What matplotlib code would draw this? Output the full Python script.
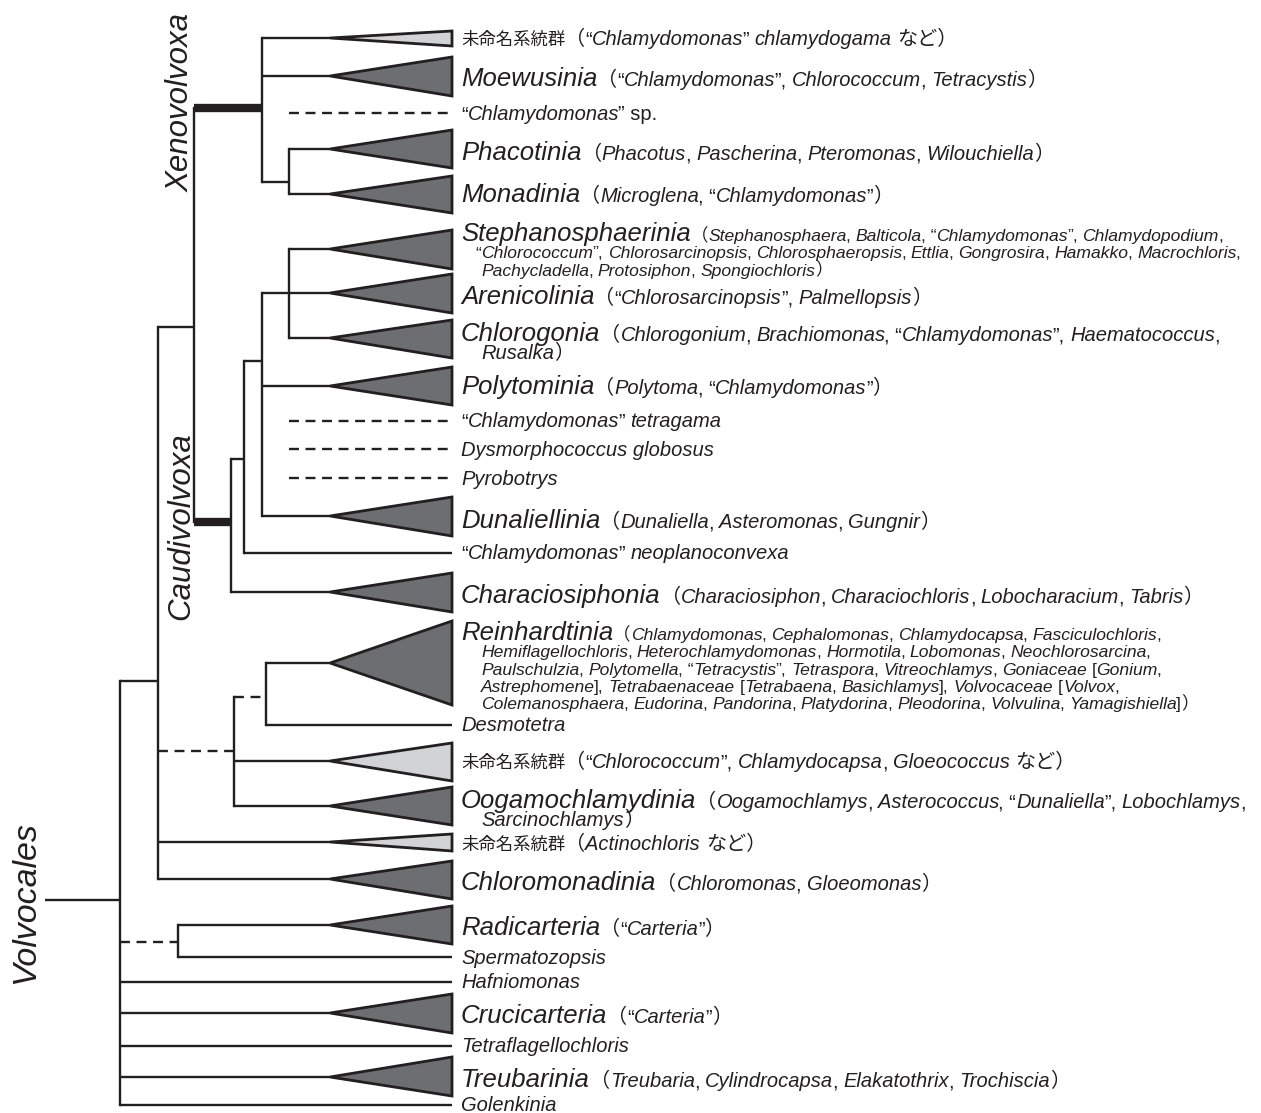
import matplotlib
matplotlib.use('Agg')
import matplotlib.pyplot as plt
from matplotlib.patches import Polygon

# ---------------- data ----------------
# internal nodes: name, x position, y where its branch joins the parent, parent, branch style
node_names  = ['root', 'core', 'xc', 'xeno', 'phac', 'caud', 'c1', 'c2', 'c3', 'rein', 'rein1', 'radi']
node_x      = [120, 158, 194, 262, 289, 231, 244, 262, 289, 234, 266, 178]
node_y      = [900, 681, 327, 108, 182, 522, 459, 361, 293, 751, 697, 942]
node_parent = [None, 'root', 'core', 'xc', 'xeno', 'xc', 'caud', 'c1', 'c2', 'core', 'rein', 'root']
node_edge   = ['solid', 'solid', 'solid', 'thick', 'solid', 'thick', 'solid', 'solid', 'solid',
               'dashed', 'dashed', 'dashed']
root_stem_x = 45

# tips
tip_y      = [38, 76, 113, 149, 194, 249, 293, 338, 386, 421, 449, 478, 516, 553, 592, 663, 725,
              761, 806, 842, 879, 925, 957, 982, 1013, 1046, 1077, 1105]
tip_kind   = ['light', 'dark', 'dash', 'dark', 'dark', 'dark', 'dark', 'dark', 'dark', 'dash', 'dash',
              'dash', 'dark', 'line', 'dark', 'dark', 'line', 'light', 'dark', 'light', 'dark', 'dark',
              'line', 'line', 'dark', 'line', 'dark', 'line']
tip_top    = [31, 57, None, 130, 176, 230, 274, 320, 367, None, None, None, 497, None, 573, 621, None,
              743, 787, 834, 861, 906, None, None, 994, None, 1057, None]
tip_bottom = [46, 96, None, 168, 213, 269, 313, 358, 405, None, None, None, 536, None, 612, 705, None,
              781, 825, 851, 899, 944, None, None, 1033, None, 1096, None]
tip_parent = ['xeno', 'xeno', 'xeno', 'phac', 'phac', 'c3', 'c3', 'c3', 'c2', 'c2', 'c2', 'c2', 'c2',
              'c1', 'caud', 'rein1', 'rein1', 'rein', 'rein', 'core', 'core', 'radi', 'radi', 'root',
              'root', 'root', 'root', 'root']
tri_tip_x, tri_base_x, dash_start_x = 330, 452, 289

# labels ('*' toggles italic)
label_y = [38, 77, 113, 151, 193, 232, 295, 332, 385, 420, 449, 478, 519, 552, 594, 631, 724,
           761, 799, 843, 881, 926, 957, 981, 1014, 1045, 1078, 1104]
label_name = ['未命名系統群', 'Moewusinia', '', 'Phacotinia', 'Monadinia', 'Stephanosphaerinia',
              'Arenicolinia', 'Chlorogonia', 'Polytominia', '', '', '', 'Dunaliellinia', '',
              'Characiosiphonia', 'Reinhardtinia', '', '未命名系統群', 'Oogamochlamydinia',
              '未命名系統群', 'Chloromonadinia', 'Radicarteria', '', '', 'Crucicarteria', '',
              'Treubarinia', '']
label_note = [
    ['（“*Chlamydomonas*” *chlamydogama* など）'],
    ['（“*Chlamydomonas*”, *Chlorococcum*, *Tetracystis*）'],
    ['“*Chlamydomonas*” sp.'],
    ['（*Phacotus*, *Pascherina*, *Pteromonas*, *Wilouchiella*）'],
    ['（*Microglena*, “*Chlamydomonas*”）'],
    ['（*Stephanosphaera*, *Balticola*, “*Chlamydomonas*”, *Chlamydopodium*,',
     '“*Chlorococcum*”, *Chlorosarcinopsis*, *Chlorosphaeropsis*, *Ettlia*, *Gongrosira*, *Hamakko*, *Macrochloris*,',
     '*Pachycladella*, *Protosiphon*, *Spongiochloris*）'],
    ['（“*Chlorosarcinopsis*”, *Palmellopsis*）'],
    ['（*Chlorogonium*, *Brachiomonas*, “*Chlamydomonas*”, *Haematococcus*,', '*Rusalka*）'],
    ['（*Polytoma*, “*Chlamydomonas*”）'],
    ['“*Chlamydomonas*” *tetragama*'],
    ['*Dysmorphococcus globosus*'],
    ['*Pyrobotrys*'],
    ['（*Dunaliella*, *Asteromonas*, *Gungnir*）'],
    ['“*Chlamydomonas*” *neoplanoconvexa*'],
    ['（*Characiosiphon*, *Characiochloris*, *Lobocharacium*, *Tabris*）'],
    ['（*Chlamydomonas*, *Cephalomonas*, *Chlamydocapsa*, *Fasciculochloris*,',
     '*Hemiflagellochloris*, *Heterochlamydomonas*, *Hormotila*, *Lobomonas*, *Neochlorosarcina*,',
     '*Paulschulzia*, *Polytomella*, “*Tetracystis*”, *Tetraspora*, *Vitreochlamys*, *Goniaceae* [*Gonium*,',
     '*Astrephomene*], *Tetrabaenaceae* [*Tetrabaena*, *Basichlamys*], *Volvocaceae* [*Volvox*,',
     '*Colemanosphaera*, *Eudorina*, *Pandorina*, *Platydorina*, *Pleodorina*, *Volvulina*, *Yamagishiella*]）'],
    ['*Desmotetra*'],
    ['（“*Chlorococcum*”, *Chlamydocapsa*, *Gloeococcus* など）'],
    ['（*Oogamochlamys*, *Asterococcus*, “*Dunaliella*”, *Lobochlamys*,', '*Sarcinochlamys*）'],
    ['（*Actinochloris* など）'],
    ['（*Chloromonas*, *Gloeomonas*）'],
    ['（“*Carteria*”）'],
    ['*Spermatozopsis*'],
    ['*Hafniomonas*'],
    ['（“*Carteria*”）'],
    ['*Tetraflagellochloris*'],
    ['（*Treubaria*, *Cylindrocapsa*, *Elakatothrix*, *Trochiscia*）'],
    ['*Golenkinia*'],
]
label_small = [False] * 28
label_small[5] = True
label_small[15] = True

group_labels = ['Xenovolvoxa', 'Caudivolvoxa', 'Volvocales']
group_x = [181, 181, 26]
group_y = [103, 526, 903]
group_size = [22.5, 22.5, 24.5]

# ---------------- style ----------------
INK = '#231f20'
DARK = '#6d6e71'
LIGHT = '#d1d3d4'
LW = 1.7
THICK = 6.0
DASH = (0, (4.2, 2.8))
LATIN = ['Liberation Sans', 'DejaVu Sans']
CJK = ['Noto Sans CJK JP', 'DejaVu Sans']
NAME_PT, NOTE_PT, SMALL_PT, KANJI_PT = 18.5, 14.5, 12.6, 12.5
TEXT_X, INDENT_X = 461, 481

W, H = 1261, 1113
fig = plt.figure(figsize=(W / 100, H / 100), dpi=100)
ax = fig.add_axes([0, 0, 1, 1])
ax.set_xlim(0, W)
ax.set_ylim(H, 0)
ax.axis('off')
renderer = fig.canvas.get_renderer()

idx = {n: i for i, n in enumerate(node_names)}


def hline(x0, x1, y, style):
    if style == 'dashed':
        ax.plot([x0, x1], [y, y], color=INK, lw=LW, linestyle=DASH, dash_capstyle='butt')
    elif style == 'thick':
        ax.plot([x0, x1], [y, y], color=INK, lw=THICK, solid_capstyle='butt')
    else:
        ax.plot([x0, x1], [y, y], color=INK, lw=LW, solid_capstyle='butt')


# node branches
for i, n in enumerate(node_names):
    p = node_parent[i]
    x0 = root_stem_x if p is None else node_x[idx[p]]
    hline(x0, node_x[i], node_y[i], node_edge[i])

# node verticals
for i, n in enumerate(node_names):
    ys = [node_y[j] for j in range(len(node_names)) if node_parent[j] == n]
    ys += [tip_y[k] for k in range(len(tip_y)) if tip_parent[k] == n and tip_kind[k] != 'dash']
    ax.plot([node_x[i], node_x[i]], [min(ys), max(ys)], color=INK, lw=LW, solid_capstyle='projecting')

# tips
for k in range(len(tip_y)):
    px = node_x[idx[tip_parent[k]]]
    kind = tip_kind[k]
    y = tip_y[k]
    if kind in ('dark', 'light'):
        hline(px, tri_tip_x, y, 'solid')
        ax.add_patch(Polygon([(tri_tip_x, y), (tri_base_x, tip_top[k]), (tri_base_x, tip_bottom[k])],
                             closed=True, facecolor=DARK if kind == 'dark' else LIGHT,
                             edgecolor=INK, lw=2.0, joinstyle='miter'))
    elif kind == 'line':
        hline(px, tri_base_x, y, 'solid')
    else:
        hline(dash_start_x, tri_base_x, y, 'dashed')

# ---------------- rich text ----------------
_cache = {}


def text_w(s, size, italic, cjk):
    key = (s, size, italic, cjk)
    if key not in _cache:
        t = ax.text(0, 0, s, fontsize=size, fontstyle='italic' if italic else 'normal',
                    family=CJK if cjk else LATIN)
        _cache[key] = t.get_window_extent(renderer).width
        t.remove()
    return _cache[key]


def adv(s, size, italic, cjk):
    return text_w('|' + s + '|', size, italic, cjk) - text_w('||', size, italic, cjk)


def is_cjk(ch):
    return ord(ch) >= 0x2E80


def split_runs(markup):
    out = []
    for k, part in enumerate(markup.split('*')):
        if not part:
            continue
        italic = (k % 2 == 1)
        cur, cur_c = '', None
        for ch in part:
            c = is_cjk(ch)
            if cur and c != cur_c:
                out.append((cur, italic and not cur_c, cur_c))
                cur = ''
            cur += ch
            cur_c = c
        if cur:
            out.append((cur, italic and not cur_c, cur_c))
    return out


def draw_run(x, yb, s, size, italic, cjk):
    lead = len(s) - len(s.lstrip(' '))
    body = s.strip(' ')
    if body:
        xo = x + (adv(' ' * lead, size, italic, cjk) if lead else 0)
        ax.text(xo, yb, body, fontsize=size, fontstyle='italic' if italic else 'normal',
                family=CJK if cjk else LATIN, color=INK, ha='left', va='baseline')
    return x + adv(s, size, italic, cjk)


def draw_line(x, yb, markup, size, prev_italic=False):
    em = size * 100 / 72
    for s, it, cj in split_runs(markup):
        if prev_italic and not it and not cj and s[0] in ',”]':
            x -= 0.05 * em
        x = draw_run(x, yb, s, size, it, cj)
        prev_italic = it
    return x


for k in range(len(label_y)):
    size = SMALL_PT if label_small[k] else NOTE_PT
    name = label_name[k]
    x = TEXT_X
    if name and not any(is_cjk(c) for c in name):
        yb = label_y[k] + 0.358 * NAME_PT * 100 / 72
        x = draw_run(x, yb, name, NAME_PT, True, False)
    else:
        yb = label_y[k] + 0.358 * NOTE_PT * 100 / 72
        if name:
            x = draw_run(x, yb, name, KANJI_PT, False, True)
    gap = 17.3 if label_small[k] else 17.5
    for li, line in enumerate(label_note[k]):
        if li > 0:
            x = INDENT_X
            if line.startswith('“'):
                x -= adv('“', size, False, False)
            yb = yb + gap
        x = draw_line(x, yb, line, size)

for lab, gx, gy, gs in zip(group_labels, group_x, group_y, group_size):
    ax.text(gx, gy, lab, rotation=90, ha='center', va='center', fontsize=gs,
            fontstyle='italic', family=LATIN, color=INK)

fig.savefig('out.png', dpi=100)
